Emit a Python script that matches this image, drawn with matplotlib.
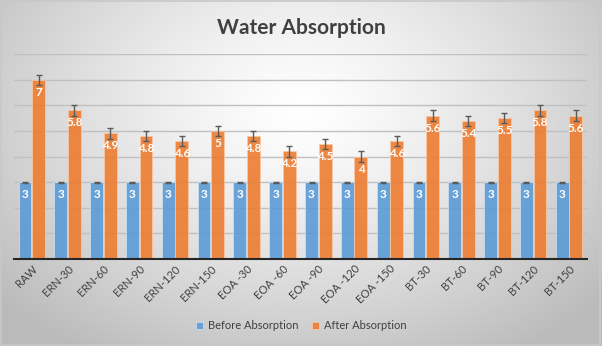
import numpy as np
import matplotlib.pyplot as plt
from matplotlib.patches import Rectangle

# dados do gráfico
categorias = ["RAW", "ERN-30", "ERN-60", "ERN-90", "ERN-120", "ERN-150",
              "EOA -30", "EOA -60", "EOA -90", "EOA -120", "EOA -150",
              "BT-30", "BT-60", "BT-90", "BT-120", "BT-150"]
antes = [3, 3, 3, 3, 3, 3, 3, 3, 3, 3, 3, 3, 3, 3, 3, 3]
depois = [7, 5.8, 4.9, 4.8, 4.6, 5, 4.8, 4.2, 4.5, 4, 4.6, 5.6, 5.4, 5.5, 5.8, 5.6]
erro_antes = [0.02] * 16
erro_depois = [0.2, 0.2, 0.2, 0.2, 0.2, 0.2, 0.2, 0.2, 0.2, 0.2, 0.2, 0.2, 0.2, 0.2, 0.2, 0.2]

plt.rcParams['font.family'] = ['Lato', 'DejaVu Sans']

fig = plt.figure(figsize=(6.02, 3.46), dpi=100)

# fundo com gradiente radial
fundo = fig.add_axes([0, 0, 1, 1], zorder=-1)
yy, xx = np.mgrid[0:346, 0:602]
d = np.sqrt(((xx - 300) / 400.0) ** 2 + ((yy - 110) / 290.0) ** 2)
d = np.clip(d, 0, 1)
cinza = 1.0 - 0.27 * d ** 1.3
img = np.dstack([cinza, cinza, cinza])
fundo.imshow(img, aspect='auto', extent=[0, 1, 0, 1])
fundo.add_patch(Rectangle((0.002, 0.003), 0.995, 0.993, fill=False,
                          edgecolor='#c8c8c8', lw=1.2, transform=fundo.transAxes))
fundo.axis('off')

ax = fig.add_axes([0.023, 0.2514, 0.952, 0.5925])
ax.patch.set_alpha(0)

x = np.arange(len(categorias))
larg = 0.36
az = '#5b9bd5'
lar = '#ed7d31'
ax.bar(x - 0.19, antes, larg, color=az, alpha=0.9, edgecolor='#cfe0f2', lw=0.6,
       yerr=erro_antes, error_kw=dict(ecolor='#5a5a5a', lw=1, capsize=2.5, capthick=1),
       label='Before Absorption', zorder=3)
ax.bar(x + 0.19, depois, larg, color=lar, alpha=0.9, edgecolor='#f8c9a8', lw=0.6,
       yerr=erro_depois, error_kw=dict(ecolor='#5a5a5a', lw=1, capsize=2.5, capthick=1),
       label='After Absorption', zorder=3)

for i in range(len(categorias)):
    ax.annotate(f"{antes[i]:g}", (x[i] - 0.19, antes[i]), xytext=(0, -9),
                textcoords='offset points', ha='center', va='center',
                color='white', fontsize=8.5, fontweight='bold', zorder=5)
    ax.annotate(f"{depois[i]:g}", (x[i] + 0.19, depois[i]), xytext=(0, -9),
                textcoords='offset points', ha='center', va='center',
                color='white', fontsize=8.5, fontweight='bold', zorder=5)

ax.set_xlim(-0.5, len(categorias) - 0.5)
ax.set_ylim(0, 8)
ax.set_yticks(np.arange(1, 9))
ax.yaxis.grid(True, color='#c0c0c0', lw=1)
ax.set_axisbelow(True)
ax.tick_params(axis='y', length=0, labelleft=False)
ax.tick_params(axis='x', length=0, pad=3)
ax.set_xticks(x)
ax.set_xticklabels(categorias, rotation=45, ha='right', rotation_mode='anchor',
                   fontsize=8, color='#404040')
for lado in ['top', 'right', 'left']:
    ax.spines[lado].set_visible(False)
ax.spines['bottom'].set_color('#262626')
ax.spines['bottom'].set_linewidth(1.5)
ax.spines['bottom'].set_zorder(6)

fig.text(0.5, 0.92, "Water Absorption", ha='center', va='center',
         fontsize=15, fontweight='bold', color='#404040')

fig.legend(loc='center', bbox_to_anchor=(0.5, 0.058), ncol=2, frameon=False,
           fontsize=8, handlelength=0.7, handleheight=0.7, columnspacing=1.2,
           handletextpad=0.4, labelcolor='#404040')

fig.savefig('out.png', dpi=100)
